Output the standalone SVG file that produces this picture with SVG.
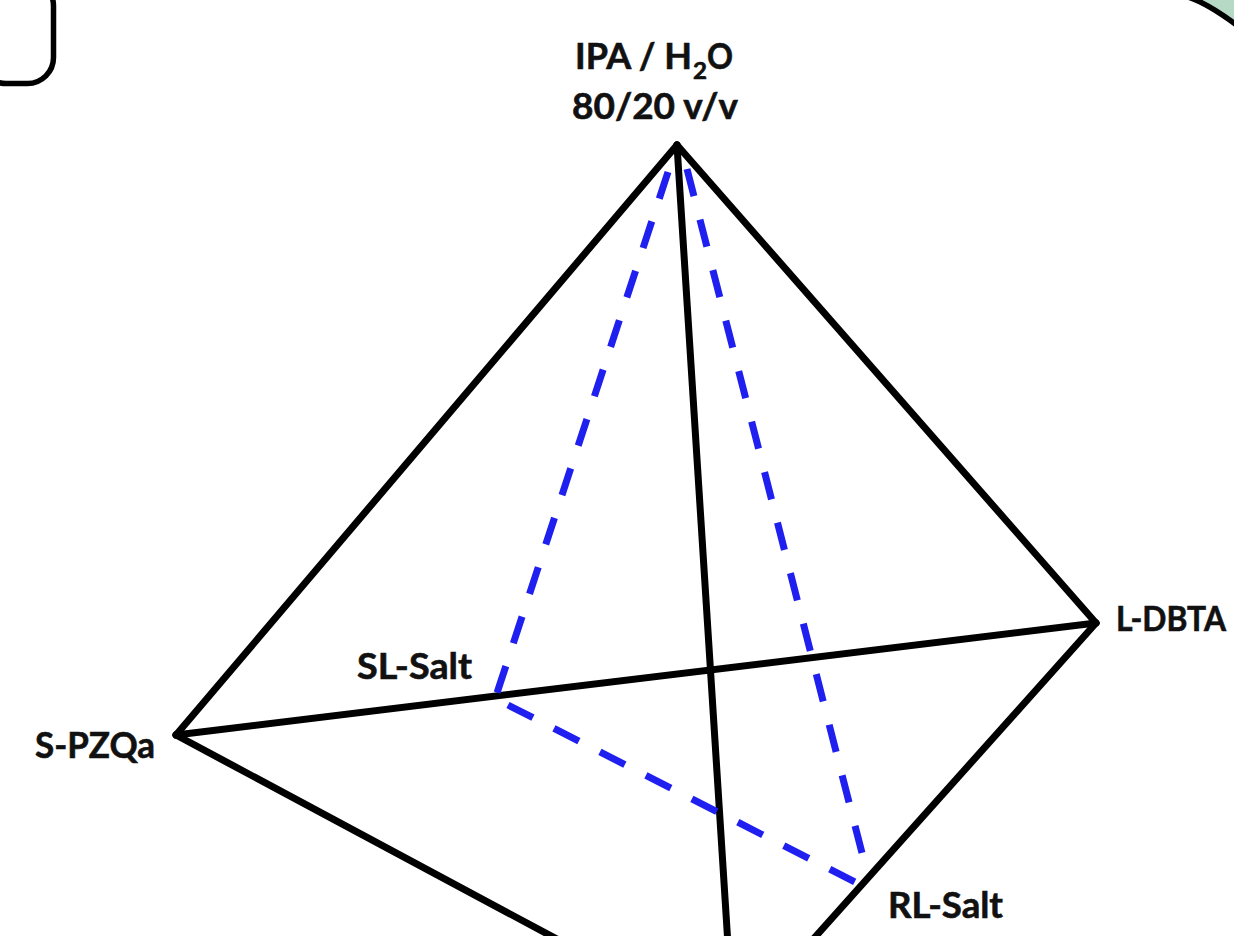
<svg xmlns="http://www.w3.org/2000/svg" width="1234" height="936" viewBox="0 0 1234 936">
<style>
.lbl{font-family:Lato,"Liberation Sans",sans-serif;font-weight:700;font-size:36px;fill:#111;stroke:#111;stroke-width:0.6}
.edge{stroke:#000;stroke-width:7;stroke-linecap:round;fill:none}
.dash{stroke:#1f1ff0;stroke-width:7;fill:none}
</style>
<rect width="1234" height="936" fill="#fff"/>
<g id="decor">
<rect x="-20" y="-20" width="73.5" height="103.5" rx="26" ry="26" fill="#fff" stroke="#000" stroke-width="5.5"/>
<path d="M1188,-3 Q1207,3 1238,26 L1238,-5 Z" fill="#b6d9c6"/>
<path d="M1188,-3 Q1207,3 1238,26" fill="none" stroke="#000" stroke-width="5.5"/>
</g>
<g id="connectors">
<line class="edge" x1="677" y1="145" x2="176" y2="735"/>
<line class="edge" x1="677" y1="145" x2="1096" y2="623"/>
<line class="edge" x1="176" y1="735" x2="1096" y2="623"/>
<line class="edge" x1="677" y1="145" x2="728" y2="945"/>
<line class="edge" x1="176" y1="735" x2="568" y2="945"/>
<line class="edge" x1="1096" y1="623" x2="808" y2="945"/>
<line class="dash" x1="668" y1="172" x2="497" y2="693" stroke-dasharray="28 24"/>
<line class="dash" x1="687" y1="169" x2="862" y2="853" stroke-dasharray="28 24.15"/>
<line class="dash" x1="508" y1="705" x2="855" y2="882" stroke-dasharray="28 23.6"/>
</g>
<g id="node-ipa-h2o">
<text class="lbl" x="575" y="69" textLength="117" lengthAdjust="spacingAndGlyphs">IPA / H</text>
<text class="lbl" x="693" y="79" style="font-size:22px" textLength="14" lengthAdjust="spacingAndGlyphs">2</text>
<text class="lbl" x="707" y="69" textLength="26" lengthAdjust="spacingAndGlyphs">O</text>
<text class="lbl" x="572" y="119" textLength="166" lengthAdjust="spacingAndGlyphs">80/20 v/v</text>
</g>
<g id="node-l-dbta">
<text class="lbl" x="1226" y="631" text-anchor="end" style="font-size:34px" textLength="110" lengthAdjust="spacingAndGlyphs">L-DBTA</text>
</g>
<g id="node-s-pzqa">
<text class="lbl" x="35" y="758" textLength="120" lengthAdjust="spacingAndGlyphs">S-PZQa</text>
</g>
<g id="node-sl-salt">
<text class="lbl" x="357" y="679" textLength="115" lengthAdjust="spacingAndGlyphs">SL-Salt</text>
</g>
<g id="node-rl-salt">
<text class="lbl" x="888" y="918" textLength="115" lengthAdjust="spacingAndGlyphs">RL-Salt</text>
</g>
</svg>
